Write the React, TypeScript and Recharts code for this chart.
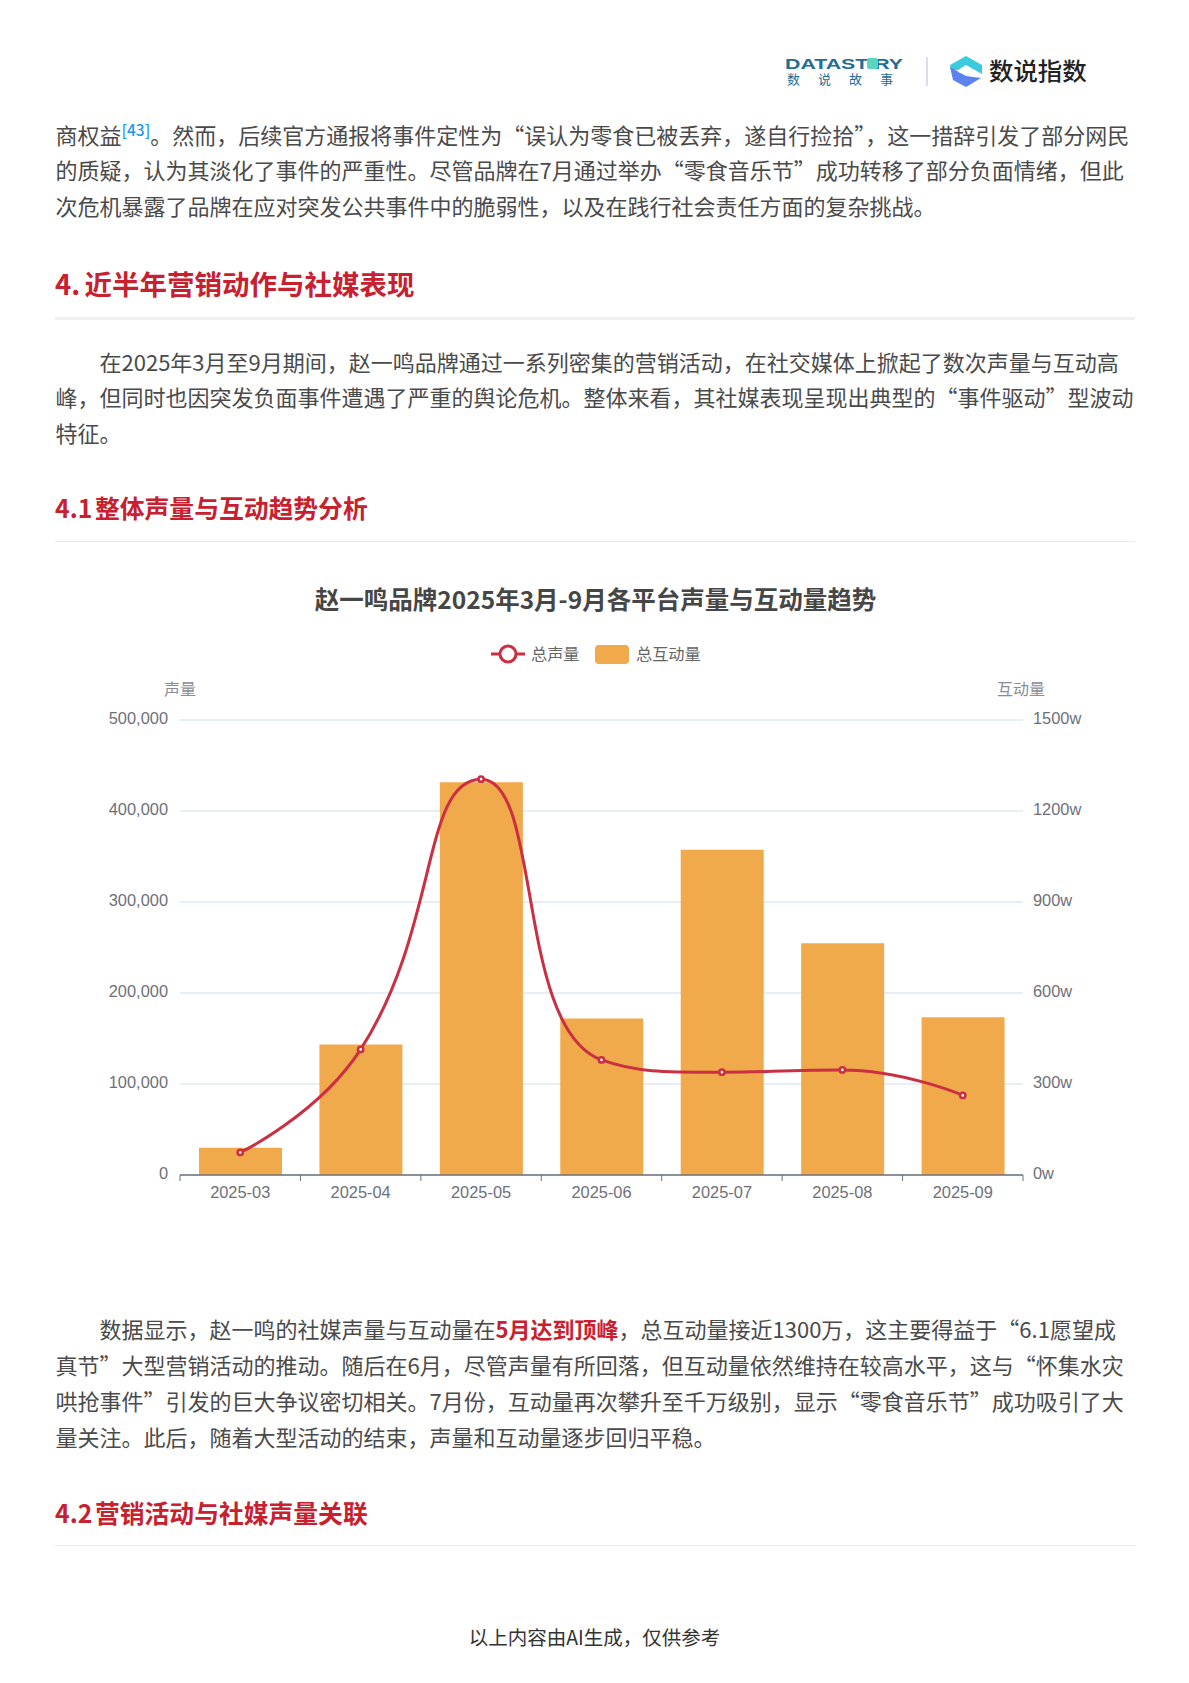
import { ComposedChart, Bar, Line, XAxis, YAxis, CartesianGrid, Legend } from "recharts";

const months = ["2025-03", "2025-04", "2025-05", "2025-06", "2025-07", "2025-08", "2025-09"];
const volume = [24800, 138000, 435000, 126500, 113000, 115500, 87500];
const engagement = [90, 430, 1295, 516, 1072, 764, 520];
const volumeTicks = [0, 100000, 200000, 300000, 400000, 500000];
const engagementTicks = [0, 300, 600, 900, 1200, 1500];

const chartTitle = "赵一鸣品牌2025年3月-9月各平台声量与互动量趋势";

const paragraphA = [
  "的质疑，认为其淡化了事件的严重性。尽管品牌在7月通过举办“零食音乐节”成功转移了部分负面情绪，但此",
  "次危机暴露了品牌在应对突发公共事件中的脆弱性，以及在践行社会责任方面的复杂挑战。",
];
const paragraphB = [
  "峰，但同时也因突发负面事件遭遇了严重的舆论危机。整体来看，其社媒表现呈现出典型的“事件驱动”型波动",
  "特征。",
];
const paragraphC = [
  "真节”大型营销活动的推动。随后在6月，尽管声量有所回落，但互动量依然维持在较高水平，这与“怀集水灾",
  "哄抢事件”引发的巨大争议密切相关。7月份，互动量再次攀升至千万级别，显示“零食音乐节”成功吸引了大",
  "量关注。此后，随着大型活动的结束，声量和互动量逐步回归平稳。",
];

const data = months.map((month, i) => ({ month, volume: volume[i], engagement: engagement[i] }));

const CJK = '"Noto Sans CJK SC", "Noto Sans", sans-serif';
const LATIN = '"Liberation Sans", Arial, sans-serif';
const RED = "#C8202F";
const BODY = "#4A4A4A";
const BAR = "#F0A94B";
const LINE = "#CB2F42";
const AXIS = "#6E7079";
const BAND = 843 / 7;

// the reference line bends like an echarts smooth: true series, recharts takes a d3 style curve
const SMOOTH = 0.5;
function smoothCurve(context: any) {
  let pts: number[][] = [];
  return {
    areaStart() {},
    areaEnd() {},
    lineStart() {
      pts = [];
    },
    point(x: number, y: number) {
      pts.push([+x, +y]);
    },
    lineEnd() {
      if (!pts.length) return;
      context.moveTo(pts[0][0], pts[0][1]);
      let cp0x = pts[0][0];
      let cp0y = pts[0][1];
      const clamp = (v: number, a: number, b: number) => Math.max(Math.min(v, Math.max(a, b)), Math.min(a, b));
      for (let i = 1; i < pts.length; i++) {
        const [x, y] = pts[i];
        const [px, py] = pts[i - 1];
        let cp1x = x;
        let cp1y = y;
        let nx0 = x;
        let ny0 = y;
        if (i < pts.length - 1) {
          const [nx, ny] = pts[i + 1];
          const lenPrev = Math.hypot(x - px, y - py);
          const lenNext = Math.hypot(nx - x, ny - y);
          const ratio = lenNext / (lenNext + lenPrev);
          nx0 = clamp(x + (nx - px) * SMOOTH * ratio, nx, x);
          ny0 = clamp(y + (ny - py) * SMOOTH * ratio, ny, y);
          cp1x = clamp(x - ((nx0 - x) * lenPrev) / lenNext, px, x);
          cp1y = clamp(y - ((ny0 - y) * lenPrev) / lenNext, py, y);
          nx0 = x + ((x - cp1x) * lenNext) / lenPrev;
          ny0 = y + ((y - cp1y) * lenNext) / lenPrev;
        }
        context.bezierCurveTo(cp0x, cp0y, cp1x, cp1y, x, y);
        cp0x = nx0;
        cp0y = ny0;
      }
    },
  };
}

function Row({ x, y, children, style }: any) {
  return (
    <div
      style={{
        position: "absolute",
        left: x,
        top: y - 18,
        lineHeight: "36px",
        fontSize: 22,
        color: BODY,
        whiteSpace: "nowrap",
        ...style,
      }}
    >
      {children}
    </div>
  );
}

function Rule({ y, h = 1, color = "#EBEBEB" }: any) {
  return <div style={{ position: "absolute", left: 55, width: 1080, top: y, height: h, background: color }} />;
}

function MonthTick({ x, y, payload, index }: any) {
  return (
    <g>
      <line x1={x - BAND / 2} x2={x - BAND / 2} y1={y - 8} y2={y - 2} stroke={AXIS} />
      {index === months.length - 1 && <line x1={x + BAND / 2} x2={x + BAND / 2} y1={y - 8} y2={y - 2} stroke={AXIS} />}
      <text x={x} y={y + 15} textAnchor="middle" fontSize={16.4} fill={AXIS} fontFamily={LATIN}>
        {payload.value}
      </text>
    </g>
  );
}

function ChartLegend() {
  const label = { fontSize: 16.2, fill: "#666", fontFamily: CJK };
  return (
    <svg width={1189} height={30} style={{ display: "block" }}>
      <line x1={491} x2={525} y1={15} y2={15} stroke={LINE} strokeWidth={3} />
      <circle cx={508} cy={15} r={8} fill="#fff" stroke={LINE} strokeWidth={3} />
      <text x={531} y={21} {...label}>总声量</text>
      <rect x={595} y={6} width={34} height={19} rx={4} fill={BAR} />
      <text x={636} y={21} {...label}>总互动量</text>
    </svg>
  );
}

function Logos() {
  return (
    <svg width={1189} height={110} style={{ position: "absolute", left: 0, top: 0 }}>
      <text x={785} y={69} fontSize={15} fontWeight={700} fontFamily={LATIN} fill="#1F6E94" textLength={118} lengthAdjust="spacingAndGlyphs">
        DATAST RY
      </text>
      <rect x={867} y={58} width={11} height={11} rx={2} fill="#5AD6BE" />
      {["数", "说", "故", "事"].map((c, i) => (
        <text key={c} x={787 + i * 31} y={84} fontSize={13} fontFamily={CJK} fill="#1F6E94">
          {c}
        </text>
      ))}
      <line x1={927} x2={927} y1={57} y2={86} stroke="#D2D2E2" strokeWidth={1.5} />
      <polygon points="966,56 982,65 982,74 973,69 966,65 958,70 951,70 950,65" fill="#3CCBDD" />
      <polygon points="950,67 966,76 981,78 966,87 953,80" fill="#5B82EE" />
      <polygon points="958,72 966,68 975,73 966,75" fill="#fff" />
      <text x={989} y={80} fontSize={24.4} fontFamily={CJK} fontWeight={500} fill="#222">
        数说指数
      </text>
    </svg>
  );
}

export default function App() {
  return (
    <div style={{ position: "absolute", left: 0, top: 0, width: 1189, height: 1683, background: "#fff", fontFamily: CJK, overflow: "hidden" }}>
      <Logos />

      <Row x={55.5} y={134}>
        商权益
        <span style={{ color: "#2196F3", fontSize: 15.5, fontWeight: 500, position: "relative", top: -8 }}>[43]</span>
        。然而，后续官方通报将事件定性为“误认为零食已被丢弃，遂自行捡拾”，这一措辞引发了部分网民
      </Row>
      {paragraphA.map((t, i) => (
        <Row key={t} x={55.5} y={169 + i * 35.5}>{t}</Row>
      ))}

      <Row x={55} y={282.5} style={{ fontSize: 27.5, fontWeight: 700, color: RED, wordSpacing: -2 }}>4. 近半年营销动作与社媒表现</Row>
      <Rule y={317} h={3} color="#EFEFEF" />

      <Row x={99.5} y={361}>在2025年3月至9月期间，赵一鸣品牌通过一系列密集的营销活动，在社交媒体上掀起了数次声量与互动高</Row>
      {paragraphB.map((t, i) => (
        <Row key={t} x={55.5} y={396 + i * 35.5}>{t}</Row>
      ))}

      <Row x={55} y={506.5} style={{ fontSize: 24.8, fontWeight: 700, color: RED, wordSpacing: -3 }}>4.1 整体声量与互动趋势分析</Row>
      <Rule y={541} />

      <div style={{ position: "absolute", left: 0, width: 1189, top: 581, textAlign: "center", fontSize: 24.5, lineHeight: "36px", fontWeight: 700, color: "#464646" }}>
        <span style={{ position: "relative", left: 1 }}>{chartTitle}</span>
      </div>

      <div style={{ position: "absolute", left: 0, top: 560 }}>
        <ComposedChart
          width={1189}
          height={660}
          data={data}
          margin={{ top: 160, right: 106, bottom: 15, left: 120 }}
        >
          <Legend verticalAlign="middle" content={<ChartLegend />} wrapperStyle={{ top: 79, left: 0, width: 1189, height: 30 }} />
          <CartesianGrid yAxisId="left" vertical={false} horizontal stroke="#DFE8F3" strokeWidth={1.5} />
          <XAxis
            dataKey="month"
            height={30}
            tick={<MonthTick />}
            tickLine={false}
            axisLine={{ stroke: AXIS, strokeWidth: 1.5 }}
            interval={0}
          />
          <YAxis
            yAxisId="left"
            width={60}
            domain={[0, 500000]}
            ticks={volumeTicks}
            tickFormatter={(v: number) => v.toLocaleString("en-US")}
            axisLine={false}
            tickLine={false}
            tickMargin={6}
            tick={{ fontSize: 16.4, fill: AXIS, fontFamily: LATIN, dy: -2 }}
            label={{ value: "声量", position: "top", offset: 25, dx: 30, style: { fontSize: 16, fill: "#8A8D95", fontFamily: CJK } }}
          />
          <YAxis
            yAxisId="right"
            orientation="right"
            width={60}
            domain={[0, 1500]}
            ticks={engagementTicks}
            tickFormatter={(v: number) => `${v}w`}
            axisLine={false}
            tickLine={false}
            tickMargin={4}
            tick={{ fontSize: 16.4, fill: AXIS, fontFamily: LATIN, dy: -2 }}
            label={{ value: "互动量", position: "top", offset: 25, dx: -32, style: { fontSize: 16, fill: "#8A8D95", fontFamily: CJK } }}
          />
          <Bar yAxisId="right" dataKey="engagement" name="总互动量" fill={BAR} barSize={83} isAnimationActive={false} />
          <Line
            yAxisId="left"
            dataKey="volume"
            name="总声量"
            type={smoothCurve as any}
            stroke={LINE}
            strokeWidth={3}
            dot={{ r: 2.6, fill: "#fff", stroke: LINE, strokeWidth: 2.6 }}
            isAnimationActive={false}
          />
        </ComposedChart>
      </div>

      <Row x={99.5} y={1328}>
        数据显示，赵一鸣的社媒声量与互动量在
        <span style={{ color: RED, fontWeight: 700 }}>5月达到顶峰</span>
        ，总互动量接近1300万，这主要得益于“6.1愿望成
      </Row>
      {paragraphC.map((t, i) => (
        <Row key={t} x={55.5} y={1364 + i * 36}>{t}</Row>
      ))}

      <Row x={55} y={1511.5} style={{ fontSize: 24.8, fontWeight: 700, color: RED, wordSpacing: -3 }}>4.2 营销活动与社媒声量关联</Row>
      <Rule y={1545} />

      <div style={{ position: "absolute", left: 0, width: 1189, top: 1619, textAlign: "center", fontSize: 19.5, lineHeight: "36px", color: "#333" }}>
        以上内容由AI生成，仅供参考
      </div>
    </div>
  );
}
